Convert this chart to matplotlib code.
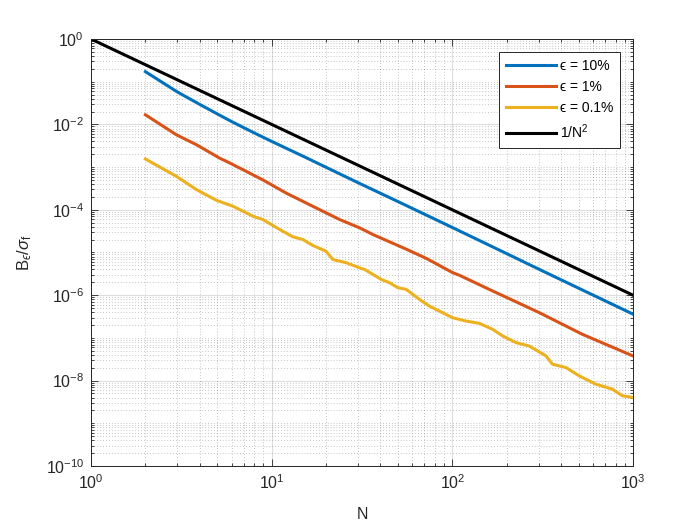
import matplotlib
matplotlib.use("Agg")
import matplotlib.pyplot as plt
from matplotlib.ticker import FixedLocator, LogFormatterSciNotation, NullFormatter

plt.rcParams['font.family'] = ['Liberation Sans', 'DejaVu Sans']
plt.rcParams['mathtext.fontset'] = 'custom'
plt.rcParams['mathtext.rm'] = 'Liberation Sans'
plt.rcParams['mathtext.it'] = 'Liberation Sans:italic'
plt.rcParams['mathtext.bf'] = 'Liberation Sans:bold'
plt.rcParams['mathtext.fallback'] = 'stix'

# ---- data ----
N_ref = [1, 1000]
B_ref = [1.0, 1e-6]

N_10 = [2, 3, 4, 5, 6, 8, 10, 15, 20, 30, 50, 100, 200, 300, 500, 1000]
B_10 = [0.172, 0.0578, 0.0294, 0.0176, 0.01167, 0.00633, 0.0040, 0.00178, 9.9e-4,
        4.33e-4, 1.56e-4, 3.85e-5, 9.4e-6, 4.1e-6, 1.46e-6, 3.6e-7]

N_1 = [2, 2.97, 3.84, 5.17, 5.86, 8.95, 12.1, 18.4, 23.8, 30.6, 36.3, 55.5, 72.1, 100,
       110, 160, 303, 525, 1000]
B_1 = [1.68e-2, 5.71e-3, 3.33e-3, 1.61e-3, 1.25e-3, 5.0e-4, 2.43e-4, 1.01e-4, 5.9e-5,
       3.8e-5, 2.64e-5, 1.2e-5, 7.2e-6, 3.4e-6, 2.9e-6, 1.37e-6, 3.9e-7, 1.21e-7, 3.78e-8]

N_01 = [2, 2.97, 3.84, 4.94, 6.11, 7.89, 8.95, 11.1, 13.1, 14.9, 16.9, 20.0, 21.8, 25.9,
        30.6, 32.7, 40.4, 44.9, 49.9, 55.5, 65.8, 74.6, 84.7, 100, 119, 141, 167, 190,
        225, 266, 330, 358, 425, 504, 622, 769, 873, 1000]
B_01 = [1.55e-3, 6.07e-4, 2.96e-4, 1.67e-4, 1.21e-4, 7.05e-5, 5.9e-5, 3.44e-5, 2.33e-5,
        2.01e-5, 1.46e-5, 1.07e-5, 6.86e-6, 5.74e-6, 4.40e-6, 4.01e-6, 2.34e-6, 1.96e-6,
        1.50e-6, 1.37e-6, 7.98e-7, 5.56e-7, 4.26e-7, 2.98e-7, 2.48e-7, 2.19e-7, 1.59e-7,
        1.11e-7, 7.76e-8, 6.47e-8, 3.78e-8, 2.42e-8, 2.02e-8, 1.29e-8, 8.24e-9, 6.3e-9,
        4.4e-9, 4.03e-9]

labels = ['ϵ = 10%', 'ϵ = 1%', 'ϵ = 0.1%', r'1/N$^2$']
colors = [(0, 0.447, 0.741), (0.85, 0.325, 0.098), (0.929, 0.694, 0.125), 'k']

x_major = [1, 10, 100, 1000]
y_major = [1e-10, 1e-8, 1e-6, 1e-4, 1e-2, 1]

fig = plt.figure(figsize=(7, 5.25), dpi=100)
ax = fig.add_axes([0.13, 0.1124, 0.7743, 0.8133])

series = [(N_10, B_10), (N_1, B_1), (N_01, B_01), (N_ref, B_ref)]
for (n, b), lab, c in zip(series, labels, colors):
    ax.plot(n, b, color=c, lw=2.2, label=lab, solid_joinstyle='round')

ax.set_xscale('log')
ax.set_yscale('log')
ax.set_xlim(1, 1000)
ax.set_ylim(1e-10, 1)

x_minor = [k * 10**e for e in range(0, 3) for k in range(2, 10)]
y_minor = [k * 10.0**e for e in range(-10, 0) for k in range(1, 10)
           if not (k == 1 and e % 2 == 0)]
ax.xaxis.set_major_locator(FixedLocator(x_major))
ax.yaxis.set_major_locator(FixedLocator(y_major))
ax.xaxis.set_minor_locator(FixedLocator(x_minor))
ax.yaxis.set_minor_locator(FixedLocator(y_minor))
ax.xaxis.set_major_formatter(LogFormatterSciNotation())
ax.yaxis.set_major_formatter(LogFormatterSciNotation())
ax.xaxis.set_minor_formatter(NullFormatter())
ax.yaxis.set_minor_formatter(NullFormatter())

gc = (0.15, 0.15, 0.15)
ax.grid(True, which='major', color=gc, alpha=0.15, lw=0.8, ls='-')
ax.grid(True, which='minor', color=gc, alpha=0.35, lw=0.6, ls=(0, (1, 2.5)))
ax.set_axisbelow(True)

ax.tick_params(which='both', direction='in', top=True, right=True, colors=gc,
               labelcolor=gc, width=0.6)
ax.tick_params(which='major', length=5, labelsize=11.5, pad=5)
ax.tick_params(which='minor', length=2.5)
for s in ax.spines.values():
    s.set_color(gc)
    s.set_linewidth(0.7)

ax.set_xlabel('N', fontsize=11.5, color=gc, labelpad=11)
ax.set_ylabel(r'B$_ϵ$/$σ_{\rm f}$', fontsize=12, color=gc, labelpad=8)

leg = ax.legend(loc='upper right', bbox_to_anchor=(0.976, 0.969), borderaxespad=0,
                fontsize=10, handlelength=3.6, labelspacing=0.5, fancybox=False,
                framealpha=1, edgecolor=gc, borderpad=0.5, handletextpad=0.3)
leg.get_frame().set_linewidth(0.7)

fig.savefig('out.png', dpi=100)
